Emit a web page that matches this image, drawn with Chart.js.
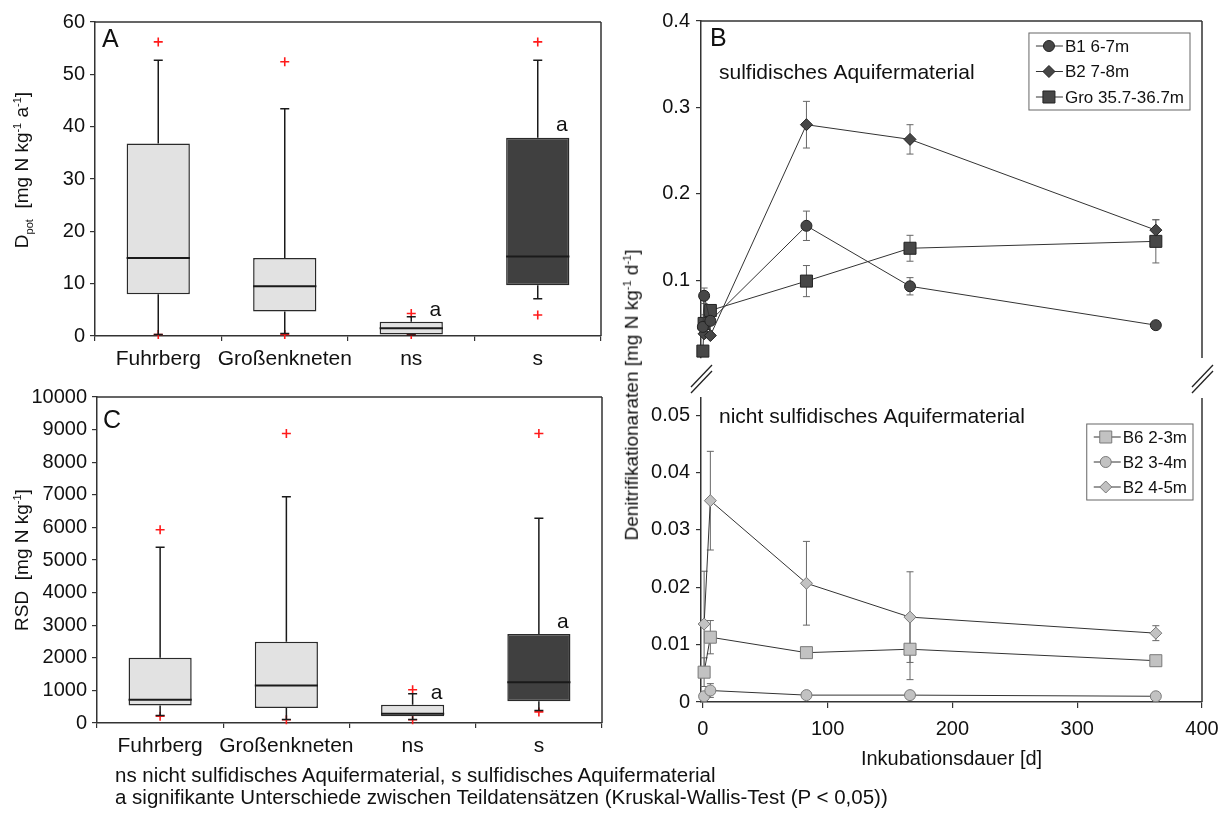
<!DOCTYPE html>
<html>
<head>
<meta charset="utf-8">
<script src="https://cdn.jsdelivr.net/npm/chart.js@4.4.0/dist/chart.umd.min.js"></script>
<style>
  body { margin: 0; background: #fff; width: 1231px; height: 817px; position: relative; overflow: hidden;
         font-family: "Liberation Sans", Arial, sans-serif; color: #111; }
  canvas { position: absolute; }
  .yt { position: absolute; white-space: nowrap; transform: translate(-50%, -50%) rotate(-90deg); font-size: 19px; }
  .yt sup, .yt sub { font-size: 11px; }
  .note { position: absolute; left: 115px; top: 764px; font-size: 20.5px; line-height: 22px; white-space: nowrap; }
</style>
</head>
<body>
<canvas id="cA" style="left:0;top:0" width="620" height="380"></canvas>
<canvas id="cC" style="left:0;top:380px" width="620" height="400"></canvas>
<canvas id="cB1" style="left:620px;top:0" width="611" height="400"></canvas>
<canvas id="cB2" style="left:620px;top:380px" width="611" height="400"></canvas>

<div class="yt" style="left:23px;top:170px">D<sub>pot</sub>&nbsp; [mg N kg<sup>-1</sup> a<sup>-1</sup>]</div>
<div class="yt" style="left:22px;top:560px">RSD&nbsp; [mg N kg<sup>-1</sup>]</div>
<div class="yt" style="left:632px;top:395px">Denitrifikationaraten [mg N kg<sup>-1</sup> d<sup>-1</sup>]</div>
<div class="note">ns nicht sulfidisches Aquifermaterial, s sulfidisches Aquifermaterial<br>a signifikante Unterschiede zwischen Teildatensätzen (Kruskal-Wallis-Test (P &lt; 0,05))</div>

<script>
// Kategorien der Boxplots
const boxCats = ['Fuhrberg', 'Großenkneten', 'ns', 's'];
const sigMarks = ['', '', 'a', 'a'];

// A: Dpot [mg N kg-1 a-1]
const dpotLo = [0.3, 0.5, 0.2, 7.1];
const dpotQ1 = [8.0, 4.7, 0.3, 9.7];
const dpotMed = [14.9, 9.5, 1.5, 15.2];
const dpotQ3 = [36.8, 14.9, 2.7, 37.9];
const dpotHi = [52.7, 43.4, 3.7, 52.7];
const dpotOutHi = [56.2, 52.4, 4.3, 56.2];
const dpotOutLo = [0.3, 0.3, 0.3, 4.0];

// C: RSD [mg N kg-1]
const rsdLo = [230, 110, 110, 380];
const rsdQ1 = [540, 460, 210, 670];
const rsdMed = [710, 1150, 280, 1250];
const rsdQ3 = [2000, 2490, 560, 2730];
const rsdHi = [5390, 6940, 900, 6280];
const rsdOutHi = [5930, 8880, 1020, 8880];
const rsdOutLo = [210, 100, 100, 340];

// B oben: sulfidisches Aquifermaterial
const b1Days = [0, 1, 6, 83, 166, 363];
const b1Rate = [0.046, 0.082, 0.053, 0.163, 0.093, 0.048];
const b1Err = [0.004, 0.009, 0.004, 0.017, 0.010, 0.003];
const b2Days = [1, 6, 83, 166, 363];
const b2Rate = [0.038, 0.036, 0.280, 0.263, 0.158];
const b2Err = [0.004, 0.003, 0.027, 0.017, 0.012];
const groDays = [0, 1, 6, 83, 166, 363];
const groRate = [0.018, 0.050, 0.065, 0.099, 0.137, 0.145];
const groErr = [0.005, 0.010, 0.005, 0.018, 0.015, 0.025];

// B unten: nicht sulfidisches Aquifermaterial
const lowDays = [1, 6, 83, 166, 363];
const b6Rate = [0.0052, 0.0113, 0.0086, 0.0092, 0.0072];
const b6Err = [0.0025, 0.0029, 0.0003, 0.0053, 0.0006];
const b23Rate = [0.0010, 0.0020, 0.0012, 0.0012, 0.0010];
const b23Err = [0.0005, 0.0012, 0.0002, 0.0002, 0.0002];
const b24Rate = [0.0136, 0.0351, 0.0207, 0.0148, 0.0120];
const b24Err = [0.0092, 0.0086, 0.0073, 0.0079, 0.0013];

const FONT = '"Liberation Sans", Arial, sans-serif';
Chart.defaults.font.family = FONT;
Chart.defaults.color = '#111';
const AX = '#333';

// Whisker, Median und Signifikanz-Buchstaben direkt nach den Boxen zeichnen
const boxPlugin = {
  id: 'boxExtras',
  afterDatasetDraw(chart, args, o) {
    if (args.index !== 0) return;
    const ctx = chart.ctx, ys = chart.scales.y;
    const meta = chart.getDatasetMeta(0);
    ctx.save();
    ctx.strokeStyle = '#1a1a1a';
    meta.data.forEach((bar, i) => {
      const cx = bar.x, hw = bar.width / 2;
      const pHi = ys.getPixelForValue(o.hi[i]), pQ3 = ys.getPixelForValue(o.q3[i]);
      const pLo = ys.getPixelForValue(o.lo[i]), pQ1 = ys.getPixelForValue(o.q1[i]);
      ctx.lineWidth = 1.5;
      ctx.beginPath();
      ctx.moveTo(cx, pQ3); ctx.lineTo(cx, pHi);
      ctx.moveTo(cx - 4.5, pHi); ctx.lineTo(cx + 4.5, pHi);
      ctx.moveTo(cx, pQ1); ctx.lineTo(cx, pLo);
      ctx.moveTo(cx - 4.5, pLo); ctx.lineTo(cx + 4.5, pLo);
      ctx.stroke();
      const pm = ys.getPixelForValue(o.med[i]);
      ctx.lineWidth = 2;
      ctx.beginPath();
      ctx.moveTo(cx - hw, pm); ctx.lineTo(cx + hw, pm);
      ctx.stroke();
      if (sigMarks[i]) {
        ctx.fillStyle = '#111';
        ctx.font = '21px ' + FONT;
        ctx.textAlign = 'center';
        ctx.textBaseline = 'middle';
        ctx.fillText(sigMarks[i], cx + 24, pQ3 - 12);
      }
    });
    ctx.restore();
  }
};

// Rahmen, Beschriftungen im Diagramm, Achsenbruch
const framePlugin = {
  id: 'frame',
  afterDraw(chart, args, o) {
    const ctx = chart.ctx, a = chart.chartArea;
    ctx.save();
    ctx.strokeStyle = AX;
    ctx.lineWidth = 1.5;
    ctx.beginPath();
    if (o.top) { ctx.moveTo(a.left, a.top); ctx.lineTo(a.right, a.top); }
    if (o.right) { ctx.moveTo(a.right, a.top); ctx.lineTo(a.right, a.bottom); }
    ctx.stroke();
    if (o.breaks) {
      ctx.lineWidth = 1.3;
      ctx.strokeStyle = '#222';
      [a.left, a.right].forEach(ax => {
        [0, 6].forEach(off => {
          ctx.beginPath();
          ctx.moveTo(ax - 10, a.bottom + 29 + off);
          ctx.lineTo(ax + 11, a.bottom + 7 + off);
          ctx.stroke();
        });
      });
    }
    (o.texts || []).forEach(t => {
      ctx.fillStyle = '#111';
      ctx.font = t.size + 'px ' + FONT;
      ctx.textAlign = 'left';
      ctx.textBaseline = 'middle';
      ctx.fillText(t.text, a.left + t.dx, a.top + t.dy);
    });
    ctx.restore();
  }
};

// Fehlerbalken vor den Punkten
const errPlugin = {
  id: 'errBars',
  beforeDatasetsDraw(chart) {
    const ctx = chart.ctx, ys = chart.scales.y;
    ctx.save();
    ctx.strokeStyle = '#666';
    ctx.lineWidth = 1;
    chart.data.datasets.forEach((ds, i) => {
      const meta = chart.getDatasetMeta(i);
      meta.data.forEach((pt, j) => {
        const v = ds.data[j].y, e = ds.err[j];
        const t = ys.getPixelForValue(v + e), b = ys.getPixelForValue(v - e);
        ctx.beginPath();
        ctx.moveTo(pt.x, t); ctx.lineTo(pt.x, b);
        ctx.moveTo(pt.x - 3.5, t); ctx.lineTo(pt.x + 3.5, t);
        ctx.moveTo(pt.x - 3.5, b); ctx.lineTo(pt.x + 3.5, b);
        ctx.stroke();
      });
    });
    ctx.restore();
  }
};

// Legende mit Rahmen innerhalb des Diagramms
const boxLegend = {
  id: 'boxLegend',
  afterDraw(chart, args, o) {
    const ctx = chart.ctx, a = chart.chartArea;
    ctx.save();
    ctx.font = '17px ' + FONT;
    const dss = chart.data.datasets;
    const tw = Math.max(...dss.map(d => ctx.measureText(d.label).width));
    const w = o.textX + tw + 6, h = o.rowStep * (dss.length - 1) + o.firstRow * 2;
    const left = a.right - o.right - w, top = a.top + o.top;
    ctx.fillStyle = '#fff';
    ctx.fillRect(left, top, w, h);
    ctx.strokeStyle = '#666';
    ctx.lineWidth = 1;
    ctx.strokeRect(left, top, w, h);
    dss.forEach((d, i) => {
      const y = top + o.firstRow + i * o.rowStep;
      ctx.strokeStyle = '#333';
      ctx.beginPath();
      ctx.moveTo(left + 7, y); ctx.lineTo(left + o.textX - 2, y);
      ctx.stroke();
      ctx.fillStyle = d.pointBackgroundColor;
      ctx.strokeStyle = d.pointBorderColor;
      ctx.lineWidth = 1;
      Chart.helpers.drawPoint(ctx, { pointStyle: d.pointStyle, radius: d.pointRadius, rotation: 0, borderWidth: 1 }, left + o.markX, y);
      ctx.fillStyle = '#111';
      ctx.textAlign = 'left';
      ctx.textBaseline = 'middle';
      ctx.fillText(d.label, left + o.textX, y + 1);
    });
    ctx.restore();
  }
};

function axisGrid(len) {
  return { drawOnChartArea: false, drawTicks: true, tickLength: len, color: AX, lineWidth: 1.2 };
}
const axisBorder = { display: true, color: AX, width: 1.5 };
const tickFont = { size: 20, family: FONT };

function makeBoxChart(id, c) {
  return new Chart(document.getElementById(id), {
    type: 'bar',
    data: {
      labels: boxCats,
      datasets: [
        { data: c.q1.map((v, i) => [v, c.q3[i]]), backgroundColor: ['#e2e2e2', '#e2e2e2', '#e2e2e2', '#404040'],
          borderColor: '#2a2a2a', borderWidth: 1.5, borderSkipped: false, barPercentage: 0.5, categoryPercentage: 1 },
        { type: 'line', data: boxCats.map((k, i) => ({ x: k, y: c.outHi[i] })), showLine: false, pointStyle: 'cross',
          pointRadius: 4.5, borderColor: '#ff1a1a', borderWidth: 1.6, clip: false },
        { type: 'line', data: boxCats.map((k, i) => ({ x: k, y: c.outLo[i] })), showLine: false, pointStyle: 'cross',
          pointRadius: 4.5, borderColor: '#ff1a1a', borderWidth: 1.6, clip: false }
      ]
    },
    options: {
      responsive: false,
      animation: false,
      layout: { padding: c.pad },
      plugins: {
        legend: { display: false },
        tooltip: { enabled: false },
        boxExtras: { lo: c.lo, q1: c.q1, med: c.med, q3: c.q3, hi: c.hi },
        frame: { top: true, right: true, texts: [c.letter] }
      },
      scales: {
        x: {
          grid: axisGrid(5), border: axisBorder,
          ticks: { font: { size: 21, family: FONT }, color: '#111', padding: 6, maxRotation: 0, minRotation: 0, autoSkip: false },
          afterFit: s => { s.height = c.xH; }
        },
        y: {
          min: 0, max: c.yMax,
          grid: axisGrid(5), border: axisBorder,
          ticks: { stepSize: c.yStep, font: tickFont, color: '#111', padding: 5, callback: v => String(v) },
          afterFit: s => { s.width = c.yW; }
        }
      }
    },
    plugins: [boxPlugin, framePlugin]
  });
}

makeBoxChart('cA', {
  lo: dpotLo, q1: dpotQ1, med: dpotMed, q3: dpotQ3, hi: dpotHi, outHi: dpotOutHi, outLo: dpotOutLo,
  yMax: 60, yStep: 10, yW: 95, xH: 44, pad: { top: 22, right: 19, left: 0, bottom: 0 },
  letter: { text: 'A', size: 25, dx: 7, dy: 18 }
});
makeBoxChart('cC', {
  lo: rsdLo, q1: rsdQ1, med: rsdMed, q3: rsdQ3, hi: rsdHi, outHi: rsdOutHi, outLo: rsdOutLo,
  yMax: 10000, yStep: 1000, yW: 97, xH: 57, pad: { top: 16, right: 18, left: 0, bottom: 0 },
  letter: { text: 'C', size: 25, dx: 6, dy: 24 }
});

function series(label, days, rate, err, style, radius, fill, border) {
  return {
    label, err,
    data: days.map((d, i) => ({ x: d, y: rate[i] })),
    borderColor: '#333', borderWidth: 1,
    pointStyle: style, pointRadius: radius, pointBackgroundColor: fill, pointBorderColor: border,
    pointBorderWidth: 1, clip: false
  };
}

const dark = '#474747', darkEdge = '#222';
const light = '#c2c2c2', lightEdge = '#7a7a7a';

new Chart(document.getElementById('cB1'), {
  type: 'line',
  data: {
    datasets: [
      series('B1 6-7m', b1Days, b1Rate, b1Err, 'circle', 5.5, dark, darkEdge),
      series('B2 7-8m', b2Days, b2Rate, b2Err, 'rectRot', 6, dark, darkEdge),
      series('Gro 35.7-36.7m', groDays, groRate, groErr, 'rect', 8.5, dark, darkEdge)
    ]
  },
  options: {
    responsive: false,
    animation: false,
    layout: { padding: { top: 21, right: 29, bottom: 42, left: 0 } },
    plugins: {
      legend: { display: false },
      tooltip: { enabled: false },
      frame: { top: true, right: true, breaks: true, texts: [
        { text: 'B', size: 25, dx: 9, dy: 18 },
        { text: 'sulfidisches Aquifermaterial', size: 21, dx: 18, dy: 52 }
      ] },
      boxLegend: { right: 12, top: 12, textX: 36, markX: 20, firstRow: 13, rowStep: 25.5 }
    },
    scales: {
      x: { type: 'linear', min: -1.5, max: 400, display: false },
      y: {
        min: 0.01, max: 0.4,
        afterBuildTicks: s => { s.ticks = [0.1, 0.2, 0.3, 0.4].map(v => ({ value: v })); },
        grid: axisGrid(5), border: axisBorder,
        ticks: { font: tickFont, color: '#111', padding: 6, callback: v => v.toFixed(1) },
        afterFit: s => { s.width = 81; }
      }
    }
  },
  plugins: [errPlugin, framePlugin, boxLegend]
});

new Chart(document.getElementById('cB2'), {
  type: 'line',
  data: {
    datasets: [
      series('B6 2-3m', lowDays, b6Rate, b6Err, 'rect', 8.5, light, lightEdge),
      series('B2 3-4m', lowDays, b23Rate, b23Err, 'circle', 5.5, light, lightEdge),
      series('B2 4-5m', lowDays, b24Rate, b24Err, 'rectRot', 6, light, lightEdge)
    ]
  },
  options: {
    responsive: false,
    animation: false,
    layout: { padding: { top: 16, right: 29, bottom: 0, left: 0 } },
    plugins: {
      legend: { display: false },
      tooltip: { enabled: false },
      frame: { top: false, right: true, texts: [
        { text: 'nicht sulfidisches Aquifermaterial', size: 21, dx: 18, dy: 19 }
      ] },
      boxLegend: { right: 9, top: 26, textX: 36, markX: 19, firstRow: 13, rowStep: 25 }
    },
    scales: {
      x: {
        type: 'linear', min: -1.5, max: 400,
        afterBuildTicks: s => { s.ticks = [0, 100, 200, 300, 400].map(v => ({ value: v })); },
        grid: axisGrid(6), border: axisBorder,
        ticks: { font: tickFont, color: '#111', padding: 9 },
        title: { display: true, text: 'Inkubationsdauer [d]', font: { size: 20, family: FONT }, color: '#111', padding: { top: 2, bottom: 9 } },
        afterFit: s => { s.height = 78; }
      },
      y: {
        min: 0, max: 0.053,
        afterBuildTicks: s => { s.ticks = [0, 0.01, 0.02, 0.03, 0.04, 0.05].map(v => ({ value: v })); },
        grid: axisGrid(5), border: axisBorder,
        ticks: { font: tickFont, color: '#111', padding: 6, callback: v => v === 0 ? '0' : v.toFixed(2) },
        afterFit: s => { s.width = 81; }
      }
    }
  },
  plugins: [errPlugin, framePlugin, boxLegend]
});
</script>
</body>
</html>
